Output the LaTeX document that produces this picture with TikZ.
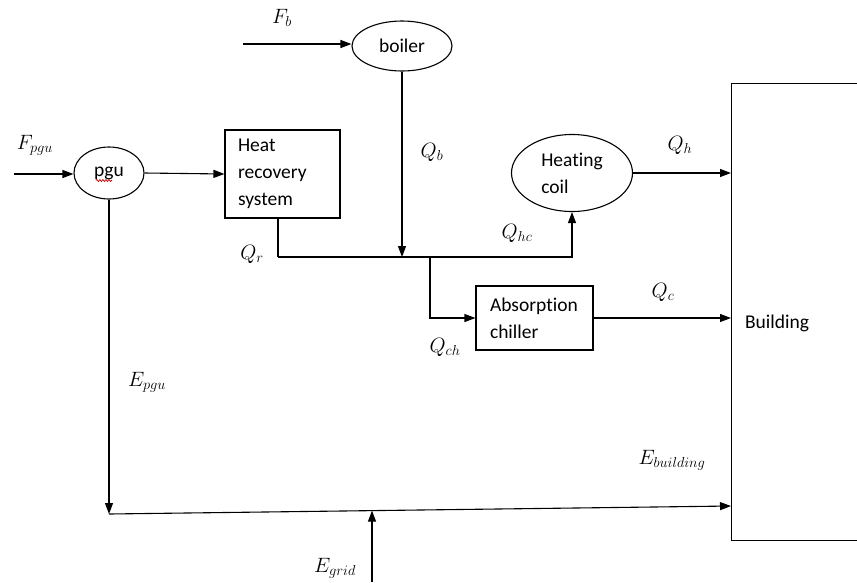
\documentclass[tikz,border=0pt]{standalone}
\usepackage{fontspec}
\setmainfont{Carlito}[Ligatures=NoCommon]
\usetikzlibrary{shapes.geometric,arrows.meta,decorations.pathmorphing}
\begin{document}
\begin{tikzpicture}[x=1pt,y=-1pt,
  line width=1.1pt,
  flow/.style={-{Triangle[length=11pt,width=8pt]}},
  txt/.style={font=\fontsize{19.5}{27}\selectfont},
  oval/.style={draw,ellipse,inner sep=0pt,txt},
  blk/.style={draw,rectangle,inner sep=0pt,txt,align=left},
  lab/.style={inner sep=0pt,font=\fontsize{19.5}{23}\selectfont},
  squiggle/.style={draw=red!80!black,line width=0.7pt,decorate,
    decoration={snake,amplitude=1pt,segment length=3pt}}]
\clip (0,0) rectangle (857,582);
\fill[white] (0,0) rectangle (857,582);

% nodes
\node[oval,minimum width=100pt,minimum height=50pt] (boiler) at (402,46) {boiler};
\node[oval,minimum width=70pt,minimum height=52pt] (pgu) at (109,173) {pgu};
\node[blk,minimum width=115pt,minimum height=88pt,text width=89pt] (hrs) at (282.5,174) {Heat\\recovery\\system};
\node[oval,minimum width=121pt,minimum height=77pt,align=left] (hc) at (572,173) {Heating\\coil};
\node[blk,minimum width=117pt,minimum height=64pt,text width=89pt] (abs) at (534.5,318) {Absorption\\chiller};
\node[draw,rectangle,inner sep=0pt,minimum width=160pt,minimum height=457pt,anchor=north west] (bld) at (731,83) {};
\node[txt,inner sep=0pt] (bldtxt) at (777,323) {Building};

% spell-check mark under pgu
\coordinate (sq1) at (96,180.5);
\coordinate (sq2) at (112,180.5);
\path[squiggle] (sq1) -- (sq2);

% coordinates
\coordinate (fpin) at (14,174);
\coordinate (fbin) at (243,44);
\coordinate (qr) at (278,257);
\coordinate (jb) at (402,257);
\coordinate (jc) at (430,257);
\coordinate (eb) at (109,514);
\coordinate (ebend) at (731,506);
\coordinate (gin) at (372,582);
\coordinate (gj) at (372,510.6);

% connectors
\draw[flow] (fpin) -- (pgu.west |- fpin);
\draw[flow] (fbin) -- (boiler.west |- fbin);
\draw[flow] (pgu.east) -- (hrs.west);
\draw (hrs.south -| qr) -- (qr);
\draw[flow] (qr) -| (hc.south);
\draw[flow] (boiler.south) -- (jb);
\draw[flow] (jc) |- (abs.west);
\draw[flow] (hc.east) -- (hc.east -| bld.west);
\draw[flow] (abs.east) -- (abs.east -| bld.west);
\draw[flow] (pgu.south) -- (eb);
\draw[flow] (eb) -- (ebend);
\draw[flow] (gin) -- (gj);

% labels
\node[lab] (lfpgu) at (35,145) {$F_{pgu}$};
\node[lab] (lfb) at (282,18) {$F_b$};
\node[lab] (lqb) at (432,152) {$Q_b$};
\node[lab] (lqh) at (680,145) {$Q_h$};
\node[lab] (lqhc) at (517,233) {$Q_{hc}$};
\node[lab] (lqr) at (252,254) {$Q_r$};
\node[lab] (lqc) at (663,292) {$Q_c$};
\node[lab] (lqch) at (445,347) {$Q_{ch}$};
\node[lab] (lepgu) at (147,382) {$E_{pgu}$};
\node[lab] (lebld) at (672,460) {$E_{building}$};
\node[lab] (legrid) at (335,568) {$E_{grid}$};
\end{tikzpicture}
\end{document}
